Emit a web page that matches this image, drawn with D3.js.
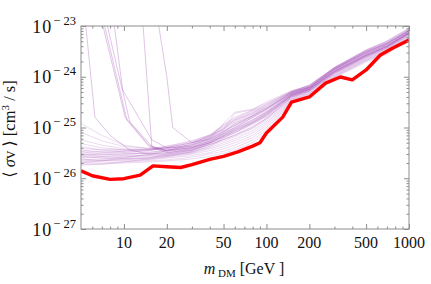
<!DOCTYPE html>
<html><head><meta charset="utf-8">
<script src="https://cdn.jsdelivr.net/npm/d3@7/dist/d3.min.js"></script>
<style>body{margin:0;background:#fff}svg{display:block}text{font-family:"Liberation Serif","DejaVu Serif",serif;fill:#111}</style>
</head><body><svg id="c" width="431" height="284"></svg>
<script>
// values in units of 1e-26 cm^3/s
const redMass = [5, 6, 8, 10, 13, 16, 20, 25, 30, 40, 50, 63, 80, 90, 100, 130, 150, 200, 260, 330, 400, 500, 630, 770, 1000];
const redVal  = [1.40, 1.12, 0.95, 0.98, 1.15, 1.75, 1.68, 1.63, 1.85, 2.35, 2.7, 3.3, 4.3, 5.0, 7.8, 16, 31.7, 40, 75, 99, 87, 136, 268, 369, 530];

const bundleMass = [5, 7, 10, 15, 20, 30, 40, 50, 60, 80, 100, 150, 200, 300, 500, 700, 1000];
const bundleVals = [
  [1.9, 1.9, 2.0, 2.1, 2.2, 2.4, 2.7, 3.1, 3.6, 5.0, 8.0, 33, 44, 95, 195, 275, 540],
  [2.0, 2.0, 2.1, 2.2, 2.3, 2.6, 3.0, 3.4, 4.0, 5.6, 9.0, 34, 46, 98, 205, 290, 560],
  [2.4, 2.2, 2.2, 2.3, 2.5, 2.8, 3.2, 3.8, 4.5, 6.3, 10, 35, 47, 100, 210, 300, 575],
  [2.7, 2.5, 2.4, 2.4, 2.6, 3.0, 3.5, 4.2, 5.0, 7.0, 11, 36, 48, 103, 215, 310, 590],
  [3.0, 2.7, 2.5, 2.5, 2.7, 3.1, 3.8, 4.6, 5.5, 7.8, 12, 37, 50, 106, 222, 320, 605],
  [2.2, 2.3, 2.4, 2.6, 2.8, 3.2, 4.0, 5.0, 6.0, 8.6, 13, 38, 51, 109, 228, 330, 620],
  [2.5, 2.6, 2.7, 2.8, 2.9, 3.3, 4.3, 5.4, 6.6, 9.5, 14, 39, 52, 112, 235, 340, 635],
  [3.3, 3.0, 2.8, 2.7, 2.8, 3.4, 4.6, 5.8, 7.2, 10.5, 15, 40, 53, 115, 240, 350, 650],
  [1.8, 1.9, 2.1, 2.4, 2.7, 3.3, 4.2, 6.2, 7.8, 11.5, 16, 41, 54, 118, 245, 360, 665],
  [2.1, 2.2, 2.3, 2.5, 3.0, 3.6, 5.0, 6.6, 8.5, 12.5, 17, 42, 55, 121, 252, 370, 680],
  [2.9, 2.9, 3.0, 3.1, 3.2, 3.7, 5.2, 7.0, 9.2, 13.5, 18, 43, 56, 124, 258, 380, 695],
  [3.6, 3.3, 3.1, 3.0, 3.1, 3.9, 5.5, 7.5, 10, 14.5, 19, 44, 57, 127, 265, 390, 710],
  [2.3, 2.4, 2.6, 2.9, 3.4, 4.1, 5.8, 8.0, 10.8, 15.5, 20, 45, 58, 130, 272, 400, 725],
  [2.6, 2.7, 2.9, 3.2, 3.6, 4.3, 6.1, 8.5, 11.5, 16.5, 21, 46, 59, 133, 280, 410, 740],
  [4.2, 3.6, 3.3, 3.3, 3.5, 4.4, 6.3, 9.0, 12.3, 17.5, 22, 47, 60, 136, 287, 420, 755],
  [3.1, 3.2, 3.4, 3.6, 3.8, 4.6, 6.5, 9.5, 13, 18.5, 23, 48, 61, 139, 294, 430, 770],
  [2.0, 2.2, 2.5, 3.0, 3.5, 4.8, 6.8, 10, 13.8, 19.5, 24, 49, 62, 142, 300, 440, 785],
  [3.4, 3.4, 3.5, 3.7, 4.0, 5.0, 7.0, 10.5, 14.5, 20.5, 25, 50, 63, 145, 307, 450, 800],
  [2.8, 3.0, 3.2, 3.5, 4.2, 5.3, 7.2, 11, 15.2, 21.5, 26, 50, 64, 147, 314, 460, 815],
  [4.8, 4.0, 3.6, 3.6, 4.0, 5.0, 6.8, 11.5, 16, 22, 28, 51, 65, 149, 320, 470, 830],
  [5.7, 4.5, 3.8, 3.6, 3.8, 4.5, 6.0, 12, 20, 23, 30, 52, 66, 150, 325, 480, 850],
  [3.8, 3.7, 3.7, 3.8, 4.3, 5.5, 7.0, 9, 19, 22.5, 32, 53, 67, 151, 330, 490, 870],
  [12, 7, 4.5, 3.8, 3.9, 4.6, 5.8, 8, 12, 17, 27, 50, 68, 152, 335, 500, 890],
  [8, 5.5, 4.2, 3.9, 4.1, 5.0, 6.5, 9.5, 14, 19, 29, 51, 69, 153, 340, 510, 910]
];
// lines that come down steeply from above the frame: [mass, value] pairs
const steepLines = [
  [[5.2, 3000], [6.26, 16], [8, 7], [11, 3.6], [15, 3.0], [20, 3.0], [30, 3.5], [40, 4.8], [60, 8], [80, 12], [100, 17], [150, 42], [200, 56], [300, 125], [500, 260], [700, 390], [1000, 720]],
  [[6.2, 5000], [10.2, 16], [15, 4.5], [20, 3.4], [30, 3.8], [40, 5.0], [60, 9], [80, 13], [100, 19], [150, 44], [200, 58], [300, 128], [500, 270], [700, 400], [1000, 735]],
  [[6.4, 5000], [10.5, 14], [15, 4.2], [20, 3.2], [30, 3.6], [40, 4.6], [60, 7], [80, 10], [100, 15], [150, 40], [200, 53], [300, 118], [500, 250], [700, 370], [1000, 690]],
  [[6.7, 5000], [11, 13], [16, 4.0], [20, 3.5], [30, 4.0], [40, 5.3], [60, 9.5], [80, 14], [100, 20], [150, 45], [200, 60], [300, 135], [500, 285], [700, 420], [1000, 760]],
  [[8.3, 2000], [9.8, 55], [15.7, 5.7], [20, 4.0], [30, 4.2], [40, 5.5], [60, 10], [80, 16], [100, 23], [150, 47], [200, 62], [300, 140], [500, 300], [700, 445], [1000, 800]],
  [[13.4, 2000], [15.7, 4.2], [20, 3.6], [30, 4.0], [40, 5.0], [60, 8.5], [80, 12.5], [100, 18], [150, 43], [200, 57], [300, 126], [500, 265], [700, 395], [1000, 730]],
  [[16.5, 3000], [20, 100], [22, 10], [30, 5.0], [40, 6], [60, 11], [80, 17], [100, 24], [150, 48], [200, 63], [300, 143], [500, 310], [700, 455], [1000, 820]]
];
const xMajor = [10, 20, 50, 100, 200, 500, 1000];
const xMinor = [6, 7, 8, 9, 30, 40, 60, 70, 80, 90, 300, 400, 600, 700, 800, 900];
const yExp = [-27, -26, -25, -24, -23];

const svg = d3.select("#c");
const L = 81, R = 409, T = 26, B = 229;
const x = d3.scaleLog().domain([5, 1000]).range([L, R]);
const y = d3.scaleLog().domain([1e-27, 1e-23]).range([B, T]);
const yMinor = [];
yExp.slice(0, -1).forEach(e => { for (let k = 2; k <= 9; k++) yMinor.push(k * Math.pow(10, e)); });

svg.append("clipPath").attr("id", "clip").append("rect")
  .attr("x", L).attr("y", T).attr("width", R - L).attr("height", B - T);
const g = svg.append("g").attr("clip-path", "url(#clip)");
const line = d3.line().x(d => x(d[0])).y(d => y(d[1] * 1e-26));

const purple = "#a046b4";
bundleVals.forEach(vals => {
  g.append("path").attr("d", line(bundleMass.map((m, i) => [m, vals[i]])))
    .attr("fill", "none").attr("stroke", purple).attr("stroke-opacity", 0.2).attr("stroke-width", 1);
});
steepLines.forEach(pts => {
  g.append("path").attr("d", line(pts))
    .attr("fill", "none").attr("stroke", purple).attr("stroke-opacity", 0.32).attr("stroke-width", 1);
});
g.append("path").attr("d", line(redMass.map((m, i) => [m, redVal[i]])))
  .attr("fill", "none").attr("stroke", "#ff0000").attr("stroke-width", 3.4).attr("stroke-linejoin", "round");

// frame and ticks
const axCol = "#8c8c8c";
svg.append("rect").attr("x", L).attr("y", T).attr("width", R - L).attr("height", B - T)
  .attr("fill", "none").attr("stroke", axCol).attr("stroke-width", 1);
function axis(gen, tr, vals, size) {
  const a = svg.append("g").attr("transform", tr)
    .call(gen.tickValues(vals).tickSize(size).tickFormat(""));
  a.select(".domain").remove();
  a.selectAll("line").attr("stroke", axCol);
}
axis(d3.axisBottom(x), `translate(0,${B})`, xMajor, -5);
axis(d3.axisBottom(x), `translate(0,${B})`, xMinor, -2.5);
axis(d3.axisTop(x), `translate(0,${T})`, xMajor, -5);
axis(d3.axisTop(x), `translate(0,${T})`, xMinor, -2.5);
const yMaj = yExp.map(e => Math.pow(10, e));
axis(d3.axisLeft(y), `translate(${L},0)`, yMaj, -5);
axis(d3.axisLeft(y), `translate(${L},0)`, yMinor, -2.5);
axis(d3.axisRight(y), `translate(${R},0)`, yMaj, -5);
axis(d3.axisRight(y), `translate(${R},0)`, yMinor, -2.5);

// tick labels
xMajor.forEach(v => {
  svg.append("text").attr("x", x(v)).attr("y", 248).attr("text-anchor", "middle")
    .attr("font-size", 16).text(v);
});
yExp.forEach(e => {
  const t = svg.append("text").attr("x", 76).attr("y", y(Math.pow(10, e)) + 6.5)
    .attr("text-anchor", "end").attr("font-size", 18);
  t.append("tspan").attr("letter-spacing", 1).text("10");
  t.append("tspan").attr("font-size", 12.5).attr("dy", -8).attr("dx", 1).text("\u2212 " + (-e));
});

// axis titles
const yt = svg.append("text").attr("transform", "translate(15,129) rotate(-90)")
  .attr("text-anchor", "middle").attr("font-size", 16.5);
yt.append("tspan").text("\u27E8 ");
yt.append("tspan").attr("font-style", "italic").text("\u03C3");
yt.append("tspan").text("v \u27E9  [cm");
yt.append("tspan").attr("font-size", 11).attr("dy", -6).text("3");
yt.append("tspan").attr("dy", 6).text(" / s]");

const xt = svg.append("text").attr("x", 244).attr("y", 274).attr("text-anchor", "middle").attr("font-size", 16);
xt.append("tspan").attr("font-style", "italic").text("m");
xt.append("tspan").attr("font-size", 11).attr("dy", 3).text(" DM");
xt.append("tspan").attr("dy", -3).text(" [GeV ]");
</script></body></html>
